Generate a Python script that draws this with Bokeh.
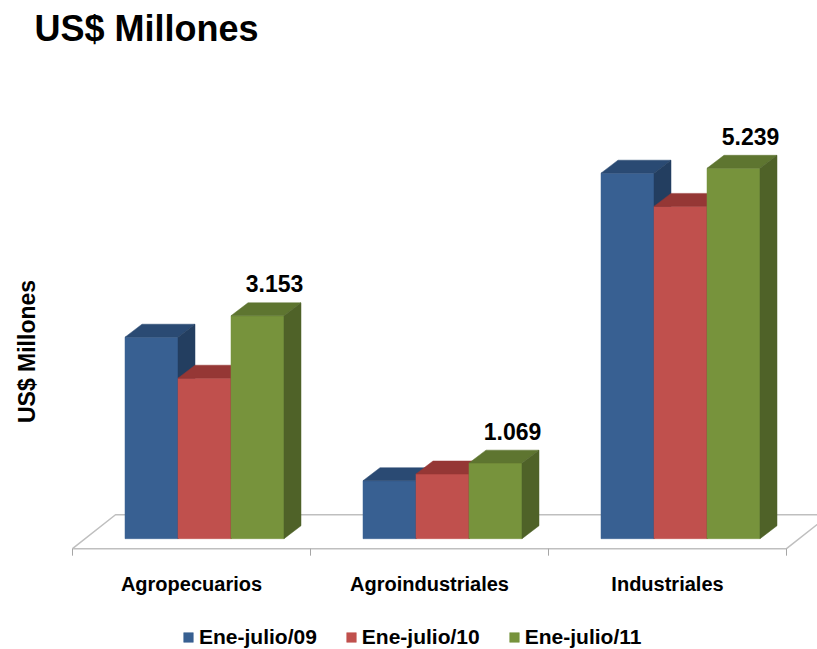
from bokeh.plotting import figure
from bokeh.models import FixedTicker, Legend, LegendItem, Range1d
from bokeh.core.properties import value
from bokeh.embed import file_html
from bokeh.resources import INLINE

# ---- data ----
categories = ["Agropecuarios", "Agroindustriales", "Industriales"]
series = ["Ene-julio/09", "Ene-julio/10", "Ene-julio/11"]
values_09 = [2850, 820, 5170]
values_10 = [2270, 915, 4700]
values_11 = [3153, 1069, 5239]
label_texts = ["3.153", "1.069", "5.239"]

# ---- style ----
front_colors = ["#386092", "#C0504D", "#77933C"]
top_colors = ["#2A4A73", "#953735", "#5E7530"]
side_colors = ["#233E60", "#7E2E2C", "#4F6228"]
FONT = "Liberation Sans"

K = 14.12          # value units per pixel
PX = 1.0 / 238.0   # category units per pixel
bar_w = 53 * PX
bar_dx, bar_dy = 17 * PX, 13 * K
floor_dx, floor_dy = 43 * PX, 34 * K
floor_front = -10 * K
floor_back = floor_front + floor_dy
group_off = floor_dx / 2 - bar_dx / 2 + 0.5 - 1.5 * bar_w
TOP = 52

n = len(categories)
p = figure(width=817, height=649, output_backend="svg", toolbar_location=None,
           x_range=Range1d(-12 * PX, (817 - 72) * PX),
           y_range=Range1d(-(649 - 538) * K, (538 - TOP) * K),
           min_border_left=60, min_border_right=0, min_border_top=TOP,
           min_border_bottom=0)
p.xgrid.visible = False
p.ygrid.visible = False
p.xaxis.visible = False
p.outline_line_color = None
p.background_fill_color = "white"

# floor
p.patch([0, n, n + floor_dx, floor_dx], [floor_front, floor_front, floor_back, floor_back],
        fill_color="white", line_color="#BFBFBF", line_width=1.5)
p.segment(x0=list(range(n + 1)), y0=[floor_front] * (n + 1),
          x1=list(range(n + 1)), y1=[floor_front - 7 * K] * (n + 1),
          line_color="#A6A6A6", line_width=1)

all_vals = [values_09, values_10, values_11]
front_renderers = []
for i in range(n):
    for j, vals in enumerate(all_vals):
        v = vals[i]
        l = i + group_off + j * bar_w
        r = l + bar_w
        fr = p.quad(left=[l], right=[r], bottom=[0], top=[v],
                    fill_color=front_colors[j], line_color=front_colors[j], line_width=0.5)
        if i == 0:
            front_renderers.append(fr)
        p.patch([l, r, r + bar_dx, l + bar_dx], [v, v, v + bar_dy, v + bar_dy],
                fill_color=top_colors[j], line_color=top_colors[j], line_width=0.5)
        p.patch([r, r + bar_dx, r + bar_dx, r], [0, bar_dy, v + bar_dy, v],
                fill_color=side_colors[j], line_color=side_colors[j], line_width=0.5)

# data labels over the last series
lab_x = [i + group_off + 2.5 * bar_w + bar_dx for i in range(n)]
lab_y = [v + bar_dy + 19 * K for v in values_11]
p.text(x=lab_x, y=lab_y, text=label_texts, text_align="center", text_baseline="alphabetic",
       text_font=value(FONT), text_font_size="23px", text_font_style="bold", text_color="black")

# category labels under the floor
p.text(x=[i + 0.5 for i in range(n)], y=[-45 * K] * n, text=categories,
       text_align="center", text_baseline="alphabetic",
       text_font=value(FONT), text_font_size="20px", text_font_style="bold", text_color="black")

# y axis (label only)
p.yaxis.ticker = FixedTicker(ticks=[])
p.yaxis.axis_line_color = None
p.yaxis.major_tick_line_color = None
p.yaxis.minor_tick_line_color = None
p.yaxis.axis_label = "US$ Millones"
p.yaxis.axis_label_standoff = 21
p.yaxis.axis_label_text_font = FONT
p.yaxis.axis_label_text_font_size = "23px"
p.yaxis.axis_label_text_font_style = "bold"
p.yaxis.axis_label_text_color = "black"

# title
p.title.text = "US$ Millones"
p.title.text_font = FONT
p.title.text_font_size = "36px"
p.title.text_font_style = "bold"
p.title.text_color = "black"
p.title.align = "left"
p.title.offset = -26
p.title.standoff = 10

# legend
items = [LegendItem(label=s, renderers=[front_renderers[j]]) for j, s in enumerate(series)]
legend = Legend(items=items, orientation="horizontal", location=(122, 0),
                glyph_width=12, glyph_height=12, label_standoff=5, spacing=28,
                label_text_font=FONT, label_text_font_size="21px", label_text_font_style="bold",
                label_text_color="black", border_line_color=None, background_fill_alpha=0,
                padding=0, margin=0)
p.add_layout(legend, "center")

open("out.html", "w").write(file_html(p, INLINE))
